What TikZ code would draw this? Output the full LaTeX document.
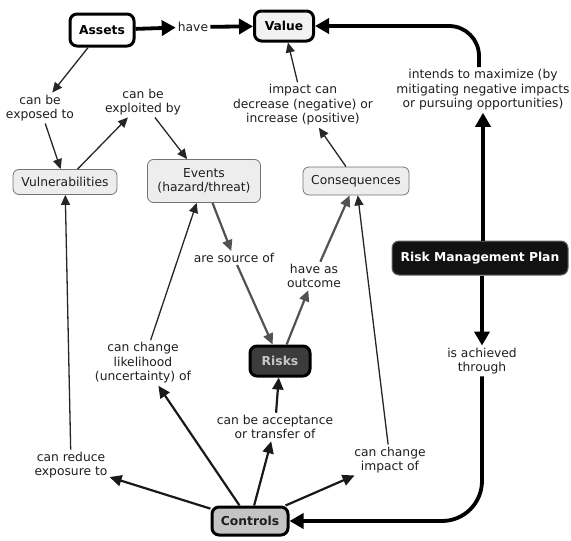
\documentclass[tikz,border=0pt]{standalone}
\usepackage{fontspec}
\setmainfont{DejaVu Sans}
\usetikzlibrary{arrows.meta}
\definecolor{labelink}{HTML}{1E1E1E}
\definecolor{softfill}{HTML}{EDEDED}
\definecolor{riskfill}{HTML}{3C3C3C}
\definecolor{ctrlfill}{HTML}{C4C4C4}
\begin{document}
\begin{tikzpicture}[x=1pt,y=-1pt,
  every node/.style={font=\fontsize{12.3}{14.6}\selectfont},
  lbl/.style={align=center, inner sep=2pt, text=labelink},
  lightbox/.style={draw=black!55, line width=0.8pt, fill=softfill,
    rounded corners=6pt, align=center, inner sep=0pt, text=labelink},
  keybox/.style={draw=black, line width=3pt, rounded corners=7pt, inner sep=0pt,
    font=\fontsize{12.3}{14.6}\selectfont\bfseries},
  thinarrow/.style={draw=black!85, line width=1.3pt, -{Triangle[length=10pt,width=9pt]}},
  midarrow/.style={draw=black!90, line width=2.2pt, -{Triangle[length=12pt,width=11pt]}},
  greyarrow/.style={draw=black!68, line width=2.2pt, -{Triangle[length=11pt,width=10pt]}},
  boldarrow/.style={draw=black, line width=3.8pt, -{Triangle[length=14pt,width=15pt]}},
]
\useasboundingbox (0,0) rectangle (571,541);

% key concepts
\node[keybox, fill=white, minimum width=64pt, minimum height=32pt] (assets) at (102,30) {Assets};
\node[keybox, fill=black!5, minimum width=59pt, minimum height=30pt] (value) at (284,26) {Value};
\node[keybox, fill=riskfill, text=black!22, minimum width=60pt, minimum height=30pt] (risks) at (280,361) {Risks};
\node[keybox, fill=ctrlfill, text=labelink, minimum width=76pt, minimum height=28pt] (controls) at (250,521) {Controls};
\node[draw=black!60, line width=1pt, fill=black!93, text=white, rounded corners=7pt,
  inner sep=0pt, minimum width=176pt, minimum height=34pt,
  font=\fontsize{12.3}{14.6}\selectfont\bfseries] (rmp) at (480,258) {Risk Management Plan};

% secondary concepts
\node[lightbox, minimum width=104pt, minimum height=25pt] (vuln) at (65,182) {Vulnerabilities};
\node[lightbox, minimum width=113pt, minimum height=43pt] (events) at (204,181) {Events\\(hazard/threat)};
\node[lightbox, minimum width=106pt, minimum height=28pt] (conseq) at (356,181) {Consequences};

% linking phrases
\node[lbl] (have) at (193,27) {have};
\node[lbl] (exposed) at (40,108) {can be\\exposed to};
\node[lbl] (exploited) at (143,102) {can be\\exploited by};
\node[lbl] (impact) at (303,105) {impact can\\decrease (negative) or\\increase (positive)};
\node[lbl] (intends) at (483,90) {intends to maximize (by\\mitigating negative impacts\\or pursuing opportunities)};
\node[lbl] (source) at (234,258) {are source of};
\node[lbl] (outcome) at (314,276) {have as\\outcome};
\node[lbl] (achieved) at (482,361) {is achieved\\through};
\node[lbl] (likelihood) at (143,363) {can change\\likelihood\\(uncertainty) of};
\node[lbl] (accept) at (275,427) {can be acceptance\\or transfer of};
\node[lbl] (reduce) at (71,465) {can reduce\\exposure to};
\node[lbl] (impactof) at (390,460) {can change\\impact of};

% heavy links
\draw[boldarrow] (assets) -- (have);
\draw[boldarrow] (have) -- (value);
\draw[boldarrow] (rmp.north -| intends) -- (intends);
\draw[boldarrow, rounded corners=30pt] ([xshift=-4pt]intends.north) |- (value.east);
\draw[boldarrow] (rmp.south -| achieved) -- (achieved);
\draw[boldarrow, rounded corners=40pt] (achieved.south) |- (controls.east);

% thin links
\draw[thinarrow] (assets) -- (exposed);
\draw[thinarrow] (exposed) -- (vuln);
\draw[thinarrow] (vuln) -- (exploited);
\draw[thinarrow] (exploited) -- (events);
\draw[thinarrow] (conseq) -- (impact);
\draw[thinarrow] (impact) -- (value);
\draw[thinarrow] (reduce) -- (vuln);
\draw[thinarrow] (likelihood) -- (events);
\draw[thinarrow] (impactof) -- (conseq);

% risk chain
\draw[greyarrow] (events) -- (source);
\draw[greyarrow] (source) -- (risks);
\draw[greyarrow] (risks) -- (outcome);
\draw[greyarrow] (outcome) -- (conseq);

% links out of Controls
\draw[midarrow] (controls) -- (reduce);
\draw[midarrow] (controls) -- (likelihood);
\draw[midarrow] (controls) -- (accept);
\draw[midarrow] (accept) -- (risks);
\draw[midarrow] (controls) -- (impactof);
\end{tikzpicture}
\end{document}
